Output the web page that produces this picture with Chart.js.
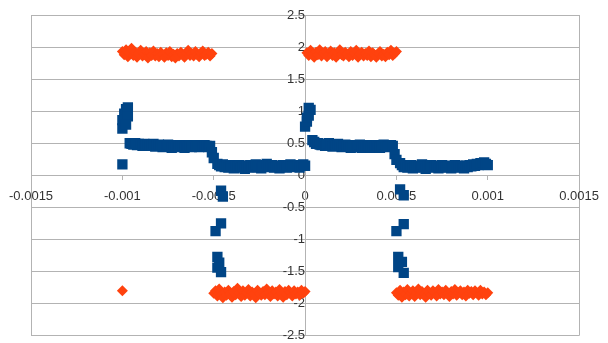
<!DOCTYPE html>
<html>
<head>
<meta charset="utf-8">
<script src="https://cdn.jsdelivr.net/npm/chart.js@4.4.1/dist/chart.umd.min.js"></script>
<style>
  html, body { margin: 0; padding: 0; background: #fff; }
  canvas { display: block; }
</style>
</head>
<body>
<canvas id="chart" width="608" height="343"></canvas>
<script>
// series 1 (blue squares): spike, upper step, drop, lower step ... twice
const blueX = [
  // spike near -0.001
  -0.001, -0.001, -0.001, -0.00099, -0.00098, -0.00097, -0.00097, -0.00098,
  // upper step
  -0.00096, -0.00095, -0.00094, -0.00093, -0.00092, -0.00091, -0.0009, -0.00089, -0.00088, -0.00087,
  -0.00086, -0.00085, -0.00084, -0.00083, -0.00082, -0.00081, -0.0008, -0.00079, -0.00078, -0.00077,
  -0.00076, -0.00075, -0.00074, -0.00073, -0.00072, -0.00071, -0.0007, -0.00069, -0.00068, -0.00067,
  -0.00066, -0.00065, -0.00064, -0.00063, -0.00062, -0.00061, -0.0006, -0.00059, -0.00058, -0.00057,
  -0.00056, -0.00055, -0.00054, -0.00053, -0.00052,
  -0.00051, -0.0005,
  // drop
  -0.00046, -0.00045, -0.00046, -0.00049, -0.00048, -0.00047, -0.00048, -0.00046,
  // lower step
  -0.00048, -0.00047, -0.00046, -0.00045, -0.00044, -0.00043, -0.00042, -0.00041, -0.0004, -0.00039,
  -0.00038, -0.00037, -0.00036, -0.00035, -0.00034, -0.00033, -0.00032, -0.00031, -0.0003, -0.00029,
  -0.00028, -0.00027, -0.00026, -0.00025, -0.00024, -0.00023, -0.00022, -0.00021, -0.0002, -0.00019,
  -0.00018, -0.00017, -0.00016, -0.00015, -0.00014, -0.00013, -0.00012, -0.00011, -0.0001, -0.00009,
  -0.00008, -0.00007, -0.00006, -0.00005, -0.00004, -0.00003, -0.00002, -0.00001, 0,
  // spike at 0
  0, 0.00001, 0.00002, 0.00003, 0.00002, 0.00001,
  // upper step
  0.00004, 0.00005, 0.00006, 0.00007, 0.00008, 0.00009, 0.0001, 0.00011, 0.00012, 0.00013,
  0.00014, 0.00015, 0.00016, 0.00017, 0.00018, 0.00019, 0.0002, 0.00021, 0.00022, 0.00023,
  0.00024, 0.00025, 0.00026, 0.00027, 0.00028, 0.00029, 0.0003, 0.00031, 0.00032, 0.00033,
  0.00034, 0.00035, 0.00036, 0.00037, 0.00038, 0.00039, 0.0004, 0.00041, 0.00042, 0.00043,
  0.00044, 0.00045, 0.00046, 0.00047, 0.00048,
  0.00049, 0.0005,
  // drop
  0.00052, 0.00054, 0.00054, 0.0005, 0.00051, 0.00053, 0.00051, 0.00054,
  // lower step
  0.00052, 0.00053, 0.00054, 0.00055, 0.00056, 0.00057, 0.00058, 0.00059, 0.0006, 0.00061,
  0.00062, 0.00063, 0.00064, 0.00065, 0.00066, 0.00067, 0.00068, 0.00069, 0.0007, 0.00071,
  0.00072, 0.00073, 0.00074, 0.00075, 0.00076, 0.00077, 0.00078, 0.00079, 0.0008, 0.00081,
  0.00082, 0.00083, 0.00084, 0.00085, 0.00086, 0.00087, 0.00088, 0.00089, 0.0009, 0.00091,
  0.00092, 0.00093, 0.00094, 0.00095, 0.00096, 0.00097, 0.00098, 0.00099, 0.001
];
const blueY = [
  0.17, 0.73, 0.86, 0.96, 1.03, 1.06, 0.92, 0.79,
  0.50, 0.49, 0.48, 0.50, 0.47, 0.49, 0.48, 0.46, 0.49, 0.47,
  0.48, 0.46, 0.47, 0.49, 0.45, 0.47, 0.48, 0.46, 0.44, 0.47,
  0.45, 0.48, 0.46, 0.43, 0.47, 0.45, 0.46, 0.44, 0.47, 0.45,
  0.43, 0.46, 0.45, 0.47, 0.44, 0.46, 0.45, 0.47, 0.44, 0.46,
  0.45, 0.47, 0.46, 0.44, 0.46,
  0.36, 0.27,
  -0.24, -0.33, -0.75, -0.87, -1.27, -1.36, -1.44, -1.51,
  0.18, 0.16, 0.14, 0.17, 0.13, 0.15, 0.12, 0.16, 0.14, 0.11,
  0.15, 0.13, 0.16, 0.12, 0.14, 0.10, 0.15, 0.13, 0.16, 0.12,
  0.14, 0.17, 0.13, 0.15, 0.11, 0.14, 0.16, 0.18, 0.15, 0.13,
  0.16, 0.12, 0.14, 0.15, 0.11, 0.13, 0.16, 0.14, 0.12, 0.15,
  0.17, 0.13, 0.15, 0.14, 0.16, 0.12, 0.15, 0.17, 0.15,
  0.76, 0.84, 0.93, 1.02, 1.05, 0.90,
  0.55, 0.52, 0.49, 0.50, 0.48, 0.47, 0.49, 0.46, 0.48, 0.50,
  0.47, 0.45, 0.48, 0.46, 0.49, 0.47, 0.44, 0.46, 0.48, 0.45,
  0.47, 0.43, 0.46, 0.44, 0.47, 0.45, 0.48, 0.43, 0.46, 0.44,
  0.47, 0.45, 0.43, 0.46, 0.44, 0.47, 0.45, 0.43, 0.46, 0.48,
  0.44, 0.46, 0.45, 0.47, 0.46,
  0.33, 0.24,
  -0.22, -0.31, -0.76, -0.87, -1.27, -1.35, -1.43, -1.52,
  0.19, 0.16, 0.13, 0.15, 0.12, 0.14, 0.16, 0.11, 0.13, 0.15,
  0.12, 0.14, 0.17, 0.13, 0.10, 0.15, 0.13, 0.16, 0.12, 0.14,
  0.15, 0.11, 0.13, 0.16, 0.14, 0.12, 0.15, 0.13, 0.11, 0.14,
  0.16, 0.12, 0.15, 0.13, 0.14, 0.11, 0.15, 0.13, 0.16, 0.14,
  0.17, 0.15, 0.18, 0.16, 0.19, 0.17, 0.20, 0.18, 0.16
];

// series 2 (orange diamonds)
const orangeX = [
  -0.001, -0.00099, -0.00098, -0.00097, -0.00096, -0.00095, -0.00094, -0.00093, -0.00092, -0.00091,
  -0.0009, -0.00089, -0.00088, -0.00087, -0.00086, -0.00085, -0.00084, -0.00083, -0.00082, -0.00081,
  -0.0008, -0.00079, -0.00078, -0.00077, -0.00076, -0.00075, -0.00074, -0.00073, -0.00072, -0.00071,
  -0.0007, -0.00069, -0.00068, -0.00067, -0.00066, -0.00065, -0.00064, -0.00063, -0.00062, -0.00061,
  -0.0006, -0.00059, -0.00058, -0.00057, -0.00056, -0.00055, -0.00054, -0.00053, -0.00052, -0.00051,
  -0.001,
  -0.0005, -0.00049, -0.00048, -0.00047, -0.00046, -0.00045, -0.00044, -0.00043, -0.00042, -0.00041,
  -0.0004, -0.00039, -0.00038, -0.00037, -0.00036, -0.00035, -0.00034, -0.00033, -0.00032, -0.00031,
  -0.0003, -0.00029, -0.00028, -0.00027, -0.00026, -0.00025, -0.00024, -0.00023, -0.00022, -0.00021,
  -0.0002, -0.00019, -0.00018, -0.00017, -0.00016, -0.00015, -0.00014, -0.00013, -0.00012, -0.00011,
  -0.0001, -0.00009, -0.00008, -0.00007, -0.00006, -0.00005, -0.00004, -0.00003, -0.00002, -0.00001, 0,
  0.00001, 0.00002, 0.00003, 0.00004, 0.00005, 0.00006, 0.00007, 0.00008, 0.00009, 0.0001,
  0.00011, 0.00012, 0.00013, 0.00014, 0.00015, 0.00016, 0.00017, 0.00018, 0.00019, 0.0002,
  0.00021, 0.00022, 0.00023, 0.00024, 0.00025, 0.00026, 0.00027, 0.00028, 0.00029, 0.0003,
  0.00031, 0.00032, 0.00033, 0.00034, 0.00035, 0.00036, 0.00037, 0.00038, 0.00039, 0.0004,
  0.00041, 0.00042, 0.00043, 0.00044, 0.00045, 0.00046, 0.00047, 0.00048, 0.00049, 0.0005,
  0.0005, 0.00051, 0.00052, 0.00053, 0.00054, 0.00055, 0.00056, 0.00057, 0.00058, 0.00059,
  0.0006, 0.00061, 0.00062, 0.00063, 0.00064, 0.00065, 0.00066, 0.00067, 0.00068, 0.00069,
  0.0007, 0.00071, 0.00072, 0.00073, 0.00074, 0.00075, 0.00076, 0.00077, 0.00078, 0.00079,
  0.0008, 0.00081, 0.00082, 0.00083, 0.00084, 0.00085, 0.00086, 0.00087, 0.00088, 0.00089,
  0.0009, 0.00091, 0.00092, 0.00093, 0.00094, 0.00095, 0.00096, 0.00097, 0.00098, 0.00099, 0.001
];
const orangeY = [
  1.93, 1.88, 1.96, 1.85, 1.91, 1.98, 1.87, 1.92, 1.84, 1.90,
  1.95, 1.86, 1.89, 1.93, 1.83, 1.91, 1.87, 1.94, 1.86, 1.90,
  1.85, 1.92, 1.88, 1.84, 1.91, 1.87, 1.93, 1.85, 1.89, 1.83,
  1.90, 1.86, 1.92, 1.88, 1.84, 1.91, 1.95, 1.87, 1.90, 1.86,
  1.93, 1.88, 1.85, 1.91, 1.94, 1.87, 1.89, 1.92, 1.86, 1.90,
  -1.80,
  -1.84, -1.80, -1.88, -1.77, -1.86, -1.91, -1.82, -1.87, -1.79, -1.85,
  -1.90, -1.81, -1.86, -1.76, -1.84, -1.89, -1.80, -1.87, -1.83, -1.78,
  -1.88, -1.82, -1.85, -1.91, -1.79, -1.84, -1.87, -1.81, -1.86, -1.77,
  -1.83, -1.89, -1.80, -1.85, -1.82, -1.88, -1.78, -1.84, -1.90, -1.81,
  -1.86, -1.79, -1.83, -1.88, -1.80, -1.85, -1.82, -1.87, -1.79, -1.84, -1.81,
  1.91, 1.87, 1.95, 1.89, 1.84, 1.92, 1.88, 1.96, 1.86, 1.90,
  1.93, 1.85, 1.89, 1.94, 1.87, 1.91, 1.84, 1.90, 1.96, 1.88,
  1.86, 1.92, 1.89, 1.85, 1.93, 1.87, 1.90, 1.95, 1.84, 1.89,
  1.92, 1.86, 1.90, 1.87, 1.94, 1.85, 1.91, 1.88, 1.84, 1.90,
  1.93, 1.86, 1.89, 1.85, 1.92, 1.88, 1.95, 1.87, 1.90, 1.93,
  -1.83, -1.87, -1.79, -1.90, -1.82, -1.86, -1.78, -1.88, -1.84, -1.80,
  -1.89, -1.83, -1.77, -1.86, -1.81, -1.85, -1.90, -1.79, -1.84, -1.87,
  -1.80, -1.83, -1.88, -1.78, -1.85, -1.82, -1.86, -1.79, -1.84, -1.89,
  -1.81, -1.85, -1.78, -1.87, -1.83, -1.80, -1.86, -1.82, -1.88, -1.79,
  -1.84, -1.81, -1.86, -1.80, -1.83, -1.87, -1.79, -1.85, -1.82, -1.86, -1.83
];

// axis ranges / ticks
const xMin = -0.0015, xMax = 0.0015, xStep = 0.0005;
const yMin = -2.5, yMax = 2.5, yStep = 0.5;

const gridGray = '#b3b3b3';
const toPoints = (xs, ys) => xs.map((x, i) => ({ x, y: ys[i] }));

new Chart(document.getElementById('chart'), {
  type: 'scatter',
  data: {
    datasets: [
      {
        label: 'Series 1',
        data: toPoints(blueX, blueY),
        pointStyle: 'rect',
        pointRadius: 7.3,
        pointBorderWidth: 0,
        backgroundColor: '#004586',
        borderColor: '#004586',
        order: 2
      },
      {
        label: 'Series 2',
        data: toPoints(orangeX, orangeY),
        pointStyle: 'rectRot',
        pointRadius: 5.5,
        pointBorderWidth: 0,
        backgroundColor: '#ff420e',
        borderColor: '#ff420e',
        order: 1
      }
    ]
  },
  options: {
    responsive: false,
    animation: false,
    layout: { padding: { left: 31, right: 20, top: 15, bottom: 6 } },
    plugins: { legend: { display: false }, tooltip: { enabled: false } },
    scales: {
      x: {
        type: 'linear',
        min: xMin,
        max: xMax,
        position: { y: 0 },
        border: { color: gridGray },
        grid: {
          color: ctx => (ctx.tick && Math.abs(Math.abs(ctx.tick.value) - xMax) < 1e-9) ? gridGray : 'rgba(0,0,0,0)',
          tickColor: gridGray,
          tickLength: 4
        },
        ticks: {
          stepSize: xStep,
          padding: 9,
          color: '#333',
          font: { family: 'Liberation Sans', size: 13 },
          maxRotation: 0,
          autoSkip: false,
          callback: v => String(Number(v.toFixed(4)))
        }
      },
      y: {
        type: 'linear',
        min: yMin,
        max: yMax,
        position: { x: 0 },
        border: { color: gridGray },
        grid: { color: gridGray, tickColor: gridGray, tickLength: 4 },
        // let the last tick label hang below the plot, as in the original
        afterFit: scale => { scale.paddingTop = 0; scale.paddingBottom = 0; },
        ticks: {
          stepSize: yStep,
          padding: 3,
          color: '#333',
          font: { family: 'Liberation Sans', size: 13 },
          callback: v => String(Number(v.toFixed(1)))
        }
      }
    }
  }
});
</script>
</body>
</html>
